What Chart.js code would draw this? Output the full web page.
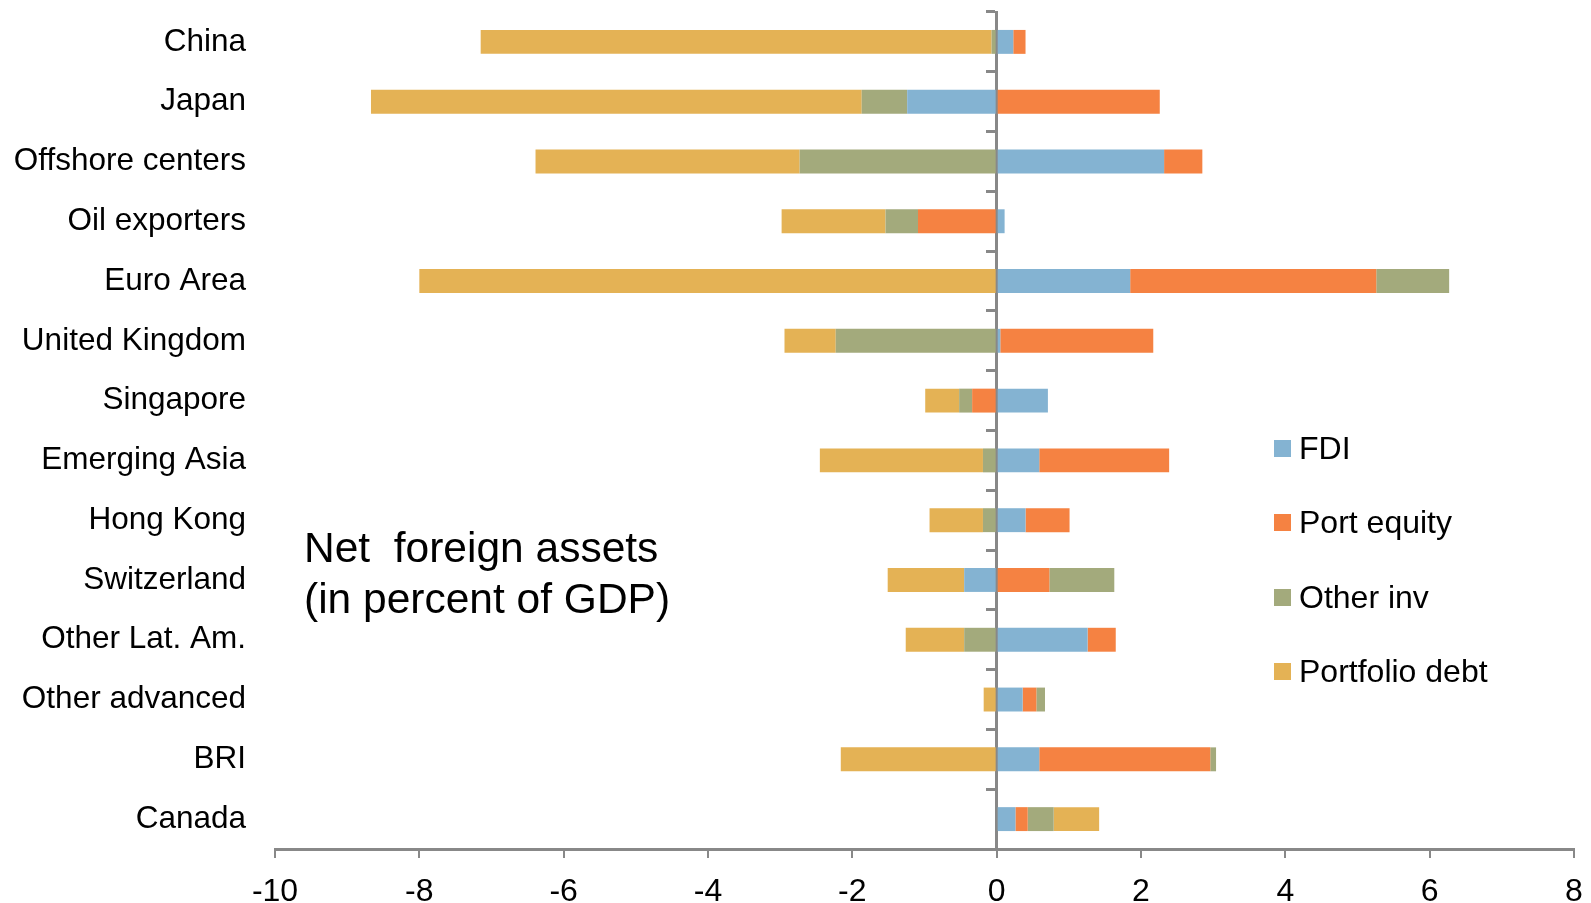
<!DOCTYPE html>
<html>
<head>
<meta charset="utf-8">
<script src="https://cdn.jsdelivr.net/npm/chart.js@4.4.1/dist/chart.umd.min.js"></script>
<style>
  html, body { margin: 0; padding: 0; background: #fff; }
  body { width: 1591px; height: 903px; position: relative; overflow: hidden; font-family: "Liberation Sans", Arial, sans-serif; }
  #wrap { position: absolute; left: 0; top: 0; width: 1591px; height: 903px; }
  .note { position: absolute; left: 304px; top: 522px; font-size: 42.5px; line-height: 51px; color: #000; white-space: pre; }
  .leg { position: absolute; left: 1274px; height: 36px; display: flex; align-items: center; font-size: 32px; color: #000; white-space: nowrap; }
  .leg span.box { width: 17px; height: 17px; margin-right: 8px; display: inline-block; }
</style>
</head>
<body>
<div id="wrap"><canvas id="nfa"></canvas></div>
<div class="note">Net  foreign assets
(in percent of GDP)</div>
<div id="legend"></div>
<script>
// categories, top to bottom
const regions = ['China', 'Japan', 'Offshore centers', 'Oil exporters', 'Euro Area', 'United Kingdom',
    'Singapore', 'Emerging Asia', 'Hong Kong', 'Switzerland', 'Other Lat. Am.', 'Other advanced', 'BRI', 'Canada'];

// series, in percent of GDP
const fdi       = [0.23, -1.24, 2.32, 0.11, 1.85, 0.05, 0.71, 0.59, 0.40, -0.45, 1.26, 0.36, 0.59, 0.26];
const portEq    = [0.17, 2.26, 0.53, -1.09, 3.41, 2.12, -0.34, 1.80, 0.61, 0.73, 0.39, 0.19, 2.37, 0.17];
const otherInv  = [-0.07, -0.63, -2.73, -0.45, 1.01, -2.23, -0.18, -0.19, -0.19, 0.90, -0.45, 0.12, 0.08, 0.36];
const portDebt  = [-7.08, -6.80, -3.66, -1.44, -8.00, -0.71, -0.47, -2.26, -0.74, -1.06, -0.81, -0.18, -2.16, 0.63];

const seriesNames = ['FDI', 'Port equity', 'Other inv', 'Portfolio debt'];
const xTicks = [-10, -8, -6, -4, -2, 0, 2, 4, 6, 8];

const colors = ['#84b3d2', '#f58242', '#a3aa7c', '#e4b255'];
const axisGrey = '#888888';
const font = '"Liberation Sans", Arial, sans-serif';

const seriesData = [fdi, portEq, otherInv, portDebt];

// html legend, like the original sits inside the plot
let legendHtml = '';
const legendCenters = [448, 522, 597, 671];
seriesNames.forEach((name, i) => {
    legendHtml += `<div class="leg" style="top:${legendCenters[i] - 18}px"><span class="box" style="background:${colors[i]}"></span>${name}</div>`;
});
document.getElementById('legend').innerHTML = legendHtml;

const canvas = document.getElementById('nfa');
canvas.width = 1591;
canvas.height = 903;

new Chart(canvas.getContext('2d'), {
    type: 'bar',
    data: {
        labels: regions,
        datasets: seriesData.map((d, i) => ({
            label: seriesNames[i],
            data: d,
            backgroundColor: colors[i],
            borderWidth: 0,
            barPercentage: 0.4,
            categoryPercentage: 1
        }))
    },
    options: {
        indexAxis: 'y',
        responsive: false,
        animation: false,
        devicePixelRatio: 1,
        layout: {
            padding: { top: 12, right: 17, left: 0, bottom: 0 }
        },
        plugins: {
            legend: { display: false },
            tooltip: { enabled: false }
        },
        scales: {
            x: {
                type: 'linear',
                stacked: true,
                min: -10,
                max: 8,
                afterBuildTicks: scale => {
                    scale.ticks = xTicks.map(v => ({ value: v }));
                },
                afterFit: scale => {
                    scale.height = 54;
                    scale.paddingLeft = 0;
                    scale.paddingRight = 0;
                },
                ticks: {
                    color: '#000',
                    font: { family: font, size: 32 },
                    padding: 15,
                    maxRotation: 0
                },
                grid: {
                    drawOnChartArea: false,
                    drawTicks: true,
                    tickLength: 9,
                    color: axisGrey,
                    lineWidth: 2
                },
                border: { display: true, color: axisGrey, width: 3 }
            },
            y: {
                stacked: true,
                afterFit: scale => {
                    scale.width = 275;
                    scale.paddingTop = 0;
                    scale.paddingBottom = 0;
                },
                ticks: {
                    color: '#000',
                    font: { family: font, size: 31.5 },
                    padding: 29
                },
                grid: { display: false, drawTicks: false },
                border: { display: false }
            },
            // zero line with category tick marks
            y2: {
                type: 'category',
                position: { x: 0 },
                offset: true,
                z: 1,
                ticks: { display: false },
                grid: {
                    offset: true,
                    drawOnChartArea: false,
                    drawTicks: true,
                    tickLength: 9,
                    color: axisGrey,
                    lineWidth: 3
                },
                border: { display: true, color: axisGrey, width: 3 }
            }
        }
    }
});
</script>
</body>
</html>
